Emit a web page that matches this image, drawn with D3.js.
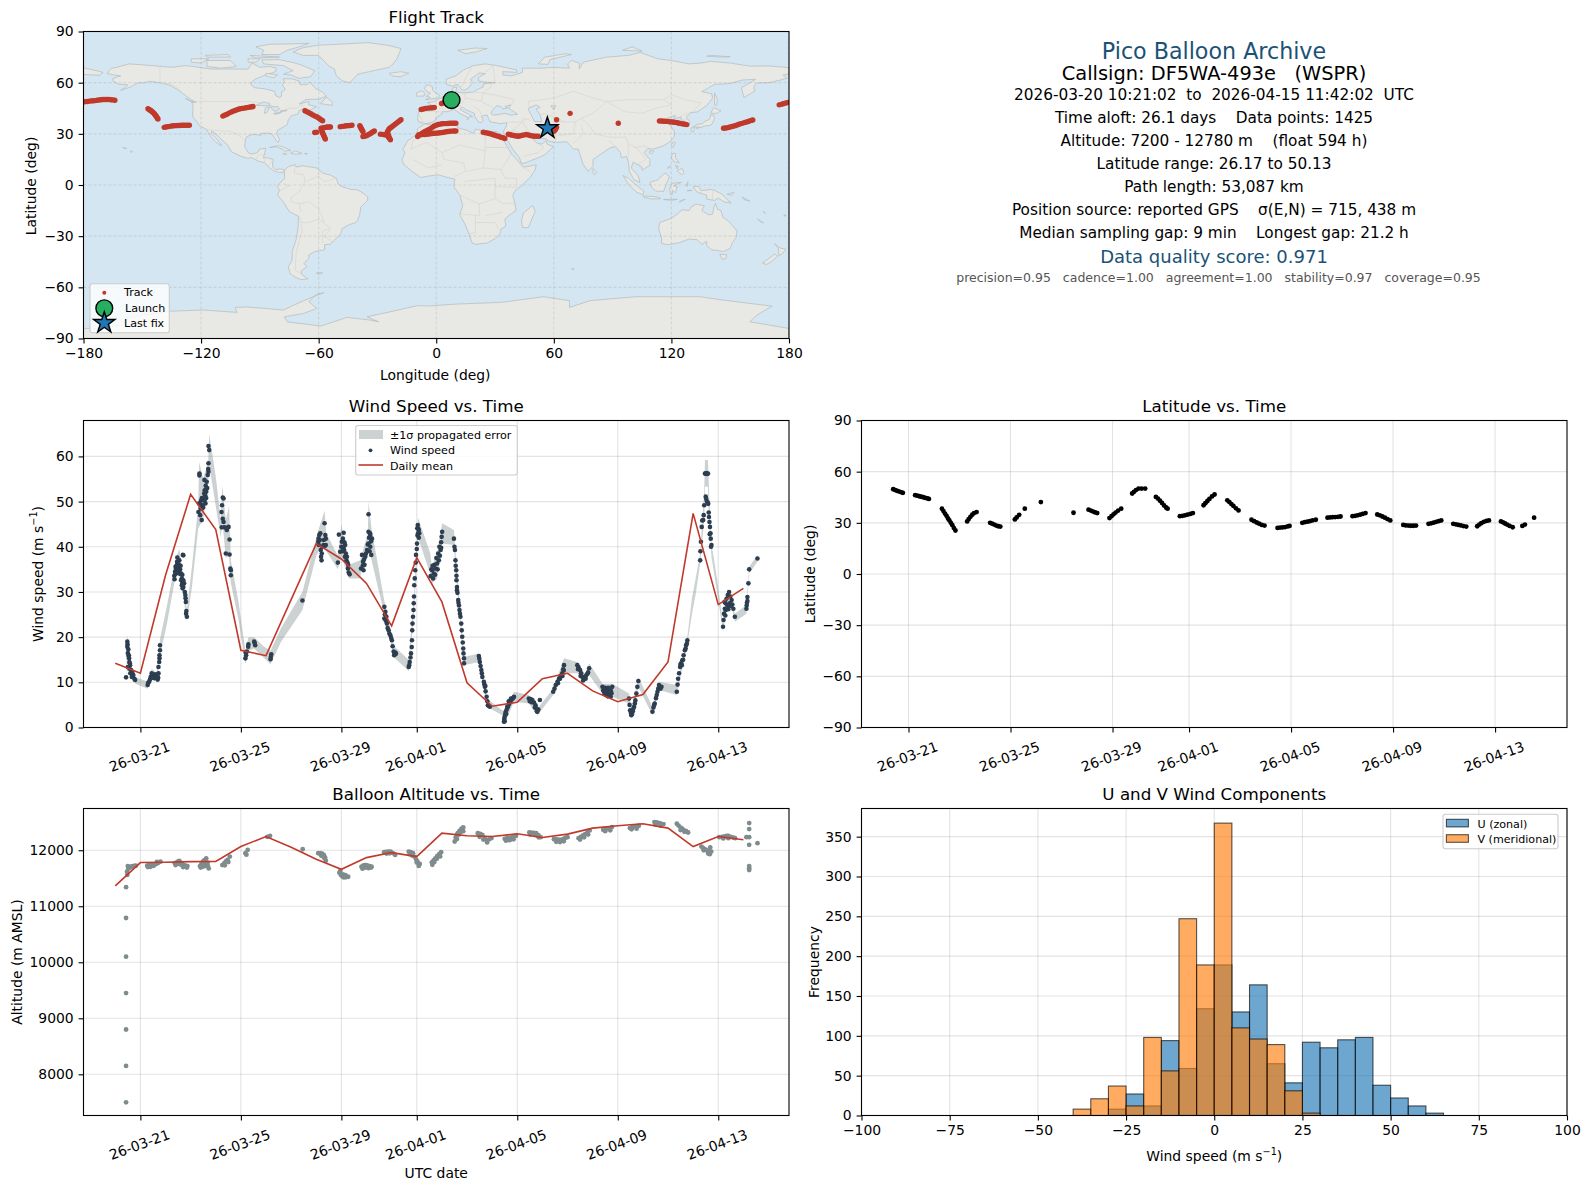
<!DOCTYPE html>
<html><head><meta charset="utf-8">
<script src="https://cdn.jsdelivr.net/npm/d3@7"></script>
<style>html,body{margin:0;padding:0;background:#fff}svg{display:block}text{font-family:"DejaVu Sans",sans-serif}</style>
</head><body><svg id="fig" width="1590" height="1189"></svg>
<script>
// ---------- Map base (lon, lat) ----------
const landPolys = [
[[-168,65.5],[-166,68.3],[-163,69],[-157,71],[-150,70.5],[-141,69.6],[-135,69],[-128,70],[-124,69.5],[-115,68],[-108,68],[-102,68],[-96,68],[-94,71.5],[-90,69],[-85,69.5],[-81.5,68.5],[-82,66.5],[-87,64.5],[-92.5,62],[-94.5,60],[-94.5,58.7],[-92.5,57],[-88,56.5],[-82.5,55],[-82,52.5],[-80,51.3],[-79,52],[-79,54.5],[-77,56],[-78.5,58.7],[-77.5,60.5],[-78,62.4],[-73.5,62.2],[-70,61],[-69.5,58.8],[-66,58.8],[-64.5,60.3],[-61.5,56.5],[-58,54.5],[-56,52],[-60,50.3],[-66.5,50.2],[-70,47.5],[-65,49],[-65,47],[-61,46],[-65,43.7],[-67,45],[-70,43.7],[-70.5,41.7],[-74,40.5],[-75.5,38],[-76,35.5],[-78,34],[-81,32],[-81.4,30],[-80,26.8],[-80.7,25],[-81.8,26],[-82.7,28],[-84,30],[-86,30.4],[-89.5,30.2],[-89.5,29],[-92,29.6],[-94.5,29.5],[-97,28],[-97.5,25],[-97.8,22.5],[-96,19],[-94.5,18.2],[-92,18.6],[-90.8,19.5],[-90.3,21],[-87,21.5],[-87.5,19],[-88.2,16],[-86,15.9],[-83.3,15],[-83.5,12],[-83.6,10.8],[-82,9],[-79.5,9.5],[-77.4,8.7],[-78,7.5],[-80,7.3],[-81.5,7.8],[-83,8.3],[-85,10],[-87.5,13],[-91,14],[-94,16],[-96.5,15.7],[-100,17],[-104.5,19.5],[-105.5,21.5],[-106.5,23.5],[-109,26],[-110.5,27.8],[-112.5,30],[-114.7,31.6],[-114.7,30],[-112.5,27.5],[-110,24],[-109.5,23],[-112,24.7],[-114.5,27.5],[-116,30],[-117.2,32.6],[-120.5,34.5],[-122.5,37.5],[-124.3,40.3],[-124.3,43],[-124,46.3],[-124.7,48.4],[-122.5,48.5],[-125,50],[-128,52.5],[-130.5,54.7],[-133,56.5],[-136,58.5],[-140,59.8],[-146,60.8],[-150,59.8],[-152,60],[-156,57.5],[-161,55.5],[-158,57.8],[-157.5,58.8],[-162,59],[-165,61],[-165,62.5],[-161,64],[-164.5,64.5]],
[[-77.4,8.7],[-75.5,10.7],[-72,12],[-71.5,10.5],[-68,11.3],[-64,10.5],[-61,10],[-58,7],[-54,5.8],[-51,4],[-50,0.5],[-48,-1],[-44,-2.5],[-40,-2.9],[-37,-5],[-35,-7],[-35,-9],[-38.5,-13],[-39,-17],[-40,-20.5],[-41,-22],[-44.5,-23.3],[-48,-25.5],[-48.7,-28.5],[-52,-32.5],[-54,-34.7],[-57,-35],[-57,-38],[-62,-39],[-65,-41],[-65,-43],[-67.5,-46],[-66,-48],[-69,-50.5],[-68.5,-52.5],[-65.5,-55],[-69,-55.5],[-72,-54],[-74.5,-52],[-75.5,-48],[-73.5,-44],[-73.5,-39],[-71.5,-32],[-70.5,-25],[-70.3,-18.5],[-75,-15.5],[-78,-10],[-81,-6],[-80,-3],[-81,-1],[-80,1],[-78.5,2.5],[-77.3,4],[-77.5,7]],
[[-73,78],[-68,76],[-60,76],[-55,70],[-52,68],[-51,64],[-48,61],[-44,60],[-40,65],[-34,66.5],[-24,69],[-22,71],[-20,74],[-19,77],[-18,80],[-25,82],[-35,83.5],[-50,82.5],[-60,82],[-68,80.5]],
[[-80,73.5],[-72,71.5],[-68,70],[-62,67],[-64,63.5],[-70,62.5],[-74,64.5],[-78,65],[-73,67],[-78,70],[-88,71],[-89,73.3]],
[[-117,73],[-105,73],[-102,69.5],[-110,68.5],[-117,69.5]],
[[-125,74],[-116,74],[-120,71.5],[-125,72]],
[[-92,81],[-85,82.5],[-65,83],[-70,81],[-76,79],[-80,76.5],[-89,76.5],[-88,79]],
[[-95,76],[-80,75],[-92,74.5]],[[-118,76],[-106,76.5],[-105,75],[-117,75]],[[-96,74],[-90,74],[-92,72],[-96,72]],
[[-87,65.5],[-81,64.5],[-83,62.8],[-87,64]],[[-59,47.7],[-53,46.7],[-53,48.5],[-56,51.5]],[[-128,50.7],[-123.5,48.5],[-125,48.8]],
[[-85,22],[-80,23.1],[-75,20.7],[-74.2,20.2],[-77.5,19.9],[-78.5,21],[-82,22.5]],[[-74.4,18.5],[-72,20],[-68.5,18.5],[-71,18]],
[[-78.3,18.4],[-76.3,18.2],[-77,17.8]],[[-67.2,18.5],[-65.7,18.4],[-66.5,18]],
[[-156,20],[-155,19.7],[-155.7,19]],[[-160,22],[-158,21.5],[-158.5,21.2]],
[[-6,35.8],[-2,35.2],[3,36.8],[10,37.3],[11,33.5],[15,32.3],[19,30.3],[20,32.7],[25,31.7],[31,31.3],[32.5,30],[34,27],[35.5,24],[37,21],[38.5,18],[41,15],[43.2,12],[45,10.5],[51,11.8],[50.5,9],[48,4.5],[43,-1],[40.5,-3],[39,-6],[40,-10],[40.7,-15],[37,-18],[35,-20],[35.5,-24],[33,-26],[32.5,-28.5],[30,-31.5],[26,-34],[20,-34.8],[18.3,-34],[17,-29.5],[14.5,-22.5],[12,-17.5],[13.5,-12],[12,-6],[9,-1],[9.5,3.5],[6,4.3],[1,6],[-4,5.2],[-8,4.4],[-13,8.5],[-16.5,12],[-17.5,14.7],[-16,19],[-17,21],[-14.5,26],[-10,29.5],[-9.5,33]],
[[-9,37],[-9.5,39],[-9,43.2],[-2,43.5],[-1.2,46],[-4.5,48.3],[-1.5,48.7],[1.5,50.5],[4,52],[8,53.7],[8.5,57],[10.5,57.5],[10,54.5],[14,54],[19,54.5],[21,56],[24,57.5],[24,59.3],[30,60],[25,60.3],[21.5,61],[21.5,63],[25,65.3],[22,65.7],[17.5,62],[18.5,60],[16.5,57],[14.3,55.5],[12.8,56],[11,59],[8,58],[5.3,59],[5,62],[10,64],[14,67.5],[19,70],[25,71],[31,70],[41,67.5],[41,66],[34,66.5],[34,64.5],[38,64],[40.5,64.7],[44,66],[44,68.5],[54,68.5],[60,69],[68,68.5],[67,71],[69,73],[73,71.5],[73,68],[75,72],[81,73.5],[87,75],[98,76],[104,77.7],[113,74],[120,73],[129,71],[135,71.5],[140,72.5],[150,71.5],[160,69.7],[170,69.8],[178,69],[180,68.7],[180,65],[177,64.5],[179,62.5],[170,60],[163.5,59.8],[162,57.5],[162.5,55],[157,51.3],[155.7,57],[163,62],[156,61.5],[150,59.5],[142,59],[135.5,54.7],[140.5,53.5],[141,51],[138,46.5],[133,42.8],[130,42.5],[127.5,39.8],[129.5,37],[129,35.2],[126.5,34.5],[126.5,37.5],[125,38],[125,39.7],[121.5,39],[122,40.8],[118,39.2],[119,37.3],[122.5,37.2],[119.5,35],[121.5,31.5],[121.5,28.5],[119,25.2],[116,23],[110.5,21],[108,21.5],[106,19],[109,15],[109,11.5],[105,8.7],[105,10.5],[102,12.5],[100.5,13.5],[99.5,10],[103,5.5],[104,1.5],[101,3],[98.5,8],[98,14],[97,16.8],[94.5,16],[94,19],[91.5,22.5],[88.5,21.7],[86.5,20],[82,16.5],[80,15],[80,11],[77.5,8],[75,12],[73,19],[72.5,21],[70,21],[69,22.5],[66.5,25.4],[61.5,25],[57,25.7],[56.5,27],[52,27.5],[50,30],[48,30],[49,27.5],[51,25],[51.5,24.5],[54,24],[56,26],[56.5,24],[59.7,22.5],[58,20.5],[55,17.5],[52,16],[45,12.8],[43.3,12.8],[42.5,16],[39,21],[36.5,26],[35,28],[34.7,29.5],[34.2,31.3],[35.8,34.5],[36,36.5],[32.5,36],[30.5,36.5],[27.5,37],[26.5,39.5],[26.2,40.2],[26,41],[24,40.7],[23,40.3],[24,38],[23,36.5],[21.5,37],[19.5,40.5],[19.5,42],[15.5,44],[13.5,45.5],[12.3,45],[12.5,44],[16,41.8],[18.5,40],[16.7,40],[16,38],[15.7,40],[12.3,41.7],[10.3,43.5],[8.8,44.4],[6,43],[3,43],[3,41.7],[0,39.5],[-0.5,38],[-2,36.8],[-5.5,36]],
[[-180,64.8],[-172,64.3],[-170,66],[-175,67.5],[-180,68.7]],
[[-5.5,50],[1.3,51.2],[1.7,52.7],[0,53.7],[-1.8,55.5],[-2,57.5],[-3.5,58.6],[-5.2,58.5],[-6,56.5],[-4.8,55],[-3,53.8],[-5,52],[-3,51.4]],
[[-10,52],[-6.2,52.2],[-6,54],[-7.5,55.3],[-10,54]],[[-24,65.5],[-18,66.4],[-14,65.5],[-18.5,63.4],[-22.7,64]],
[[11,79],[20,80.3],[26,80],[20,78],[15,77]],[[52,71],[57,70.7],[58,73.5],[69,76.5],[66,77],[55.5,75]],[[95,79],[105,78.5],[100,81]],
[[138,75.5],[146,75],[150,75.2],[140,76]],[[142,54],[143.5,50],[143,46.5],[142,47]],[[140,42],[141.5,45.4],[145.3,43.5],[143,42]],
[[130.9,34],[133,35.5],[136,36],[137,37.3],[139.5,38.5],[140,41],[141.5,41],[142,39],[140.8,36],[140,35],[136.8,34.5],[135,33.7],[132,34]],
[[130,33.5],[131.8,33.5],[131.3,31.3],[130.2,31.3]],[[132.5,33.8],[134.5,34],[134,33.3],[133,33]],[[121,25.2],[122,25],[120.9,22],[120,23.3]],
[[109,20],[111,20],[110,18.3],[108.7,19]],[[80,9.7],[81.8,7.5],[80.7,6],[79.8,8]],[[120.5,18.5],[122.2,18.5],[122,16],[124,13],[121,13.8],[120,16]],
[[123,8.5],[125.5,9.7],[126.5,7],[125.5,6],[123.5,7.5]],[[118,10],[119.5,11.2],[118.8,10]],[[122,11.5],[123.5,11],[123,9.5]],
[[95.3,5.6],[98,4],[104,-2],[106,-3.5],[105.5,-5.8],[102,-4],[98,0.5]],[[105.5,-6.5],[108.5,-6.6],[113,-7],[114.5,-8],[110,-8.2],[106,-7.3]],
[[109,1.5],[113,3],[116.7,7],[119,5],[117.5,1],[116,-3.8],[112,-3.5],[110,-1.5]],[[119.5,-5.5],[119,-2],[120.5,1],[125,1.5],[121,-0.5],[123,-1],[122,-4.5],[120.5,-3],[120.5,-5.5]],
[[131,-1],[134,-0.8],[135,-3.3],[141,-2.6],[146,-5.5],[148,-8],[150.5,-10.5],[147,-10],[144,-7.7],[142,-9],[138,-8.3],[138,-6],[133,-4]],
[[124,-10],[127,-8.4],[125,-9]],[[116,-8.5],[119,-8.4],[123,-8.4],[120,-9]],[[127.5,0],[128.5,2],[128,-1]],[[129,-3],[130.5,-3.2],[128,-3.5]],
[[148.5,-5.5],[152,-4.2],[151,-6]],[[156,-7],[160,-9.5],[157,-8.5]],[[164,-20],[167,-22.2],[166,-22]],[[167,-15.5],[168,-16.5],[167,-16]],[[177.5,-17.5],[178.5,-18],[177.5,-18.2]],
[[114,-22],[113.5,-26],[115,-31],[115,-34.3],[118,-35],[123.5,-34],[129,-31.7],[133,-32],[135.5,-34.8],[138,-33],[138,-35.5],[140.5,-38],[144,-38.5],[146.5,-39],[150,-37.3],[151,-34],[153,-31],[153.5,-27],[151,-23.5],[149,-21],[146.3,-19],[145.3,-15],[143.5,-14.3],[142.5,-10.8],[141.7,-13],[141,-17],[139,-17.5],[135.5,-15],[136.8,-12.2],[132.5,-11.2],[130,-13],[129,-15],[125.5,-14.5],[122,-18],[119,-20]],
[[144.7,-40.7],[148.2,-40.8],[147.8,-43],[146,-43.6]],[[166.5,-45.8],[172.7,-40.5],[174.2,-41.7],[171,-45],[168.5,-46.6]],[[172.8,-34.5],[175.5,-37],[178.5,-37.7],[176.8,-40],[175,-41.5],[174.7,-39],[174.5,-37]],
[[49.3,-12],[50.5,-15.5],[47,-25],[44,-25],[43.5,-21],[44.5,-16.3]],[[69,-49],[70.5,-49.3],[69.5,-49.7]],[[-61,-51.5],[-58,-51.4],[-59,-52.3],[-61,-52]],
[[-180,-84.1],[-170,-84],[-160,-82],[-157,-78],[-150,-76.5],[-136,-74],[-118.7,-73.3],[-101.7,-74.7],[-102.5,-71.8],[-96.6,-71.5],[-78,-73.3],[-74.5,-71.4],[-67.6,-67.8],[-57.4,-63.1],[-61.7,-64.5],[-65,-68.4],[-61,-72.4],[-67.6,-75.3],[-77.5,-77.3],[-76,-80.2],[-59,-82.7],[-52.3,-80.2],[-45.5,-77.6],[-33.6,-79.2],[-29.4,-80.2],[-35.3,-77.3],[-23.4,-74.3],[-9.8,-70.8],[-3,-70.9],[10.4,-69.8],[33.4,-68.8],[54.6,-65.5],[68,-67.8],[68,-71.8],[78.5,-67.8],[102,-65.5],[134.6,-65.5],[146.6,-67.5],[171.3,-71],[163.6,-76.3],[160,-80.2],[180,-84.1],[180,-90],[-180,-90]]
];
const waterPolys = [
[[41.5,41.5],[37,45],[38,47],[35,46],[36.5,45.2],[34,44.5],[33,46],[30.7,46.5],[28.5,43.5],[28,41.8],[29,41],[31,41.2],[35,42],[38,41]],
[[47,45],[51,47],[53,45.5],[51,44.5],[53,41],[54,37],[50,37.3],[49,40],[47.5,43]],
[[-92,46.7],[-88,48.7],[-85,47.8],[-84.7,46.5],[-87,46.5]],[[-87.8,42],[-87,45.5],[-85,45.8],[-86.3,42.5]],[[-84.5,45.8],[-81,46],[-80,44.5],[-82,43.2],[-83.5,44]],
[[-83,41.8],[-79,42.8],[-79.5,42.2],[-82,41.5]],[[-79.7,43.3],[-76.3,44],[-76.5,43.4],[-78.5,43.2]],[[58.5,46.5],[61,46.5],[60,44]]
];
const borderLines = [
[[-123,49],[-95,49],[-89,48],[-84,46.5],[-82.5,45],[-82.5,42.5],[-79,43],[-75,45],[-71,45],[-69,47.3],[-67,45]],[[-141,69.6],[-141,60],[-135,59],[-130,55]],[[-117,32.5],[-108,31.5],[-106,31.7],[-101,29.5],[-97.5,26]],
[[-92,14.5],[-91,17.5],[-88.5,18]],[[-88,15.8],[-87.5,13.3]],[[-83.2,15],[-85.7,11]],[[-70,-18],[-69,-22],[-68.5,-27],[-70,-33],[-71.5,-40],[-72,-50],[-69,-52]],
[[-72,12],[-72.5,7],[-67.5,6],[-67,2],[-70,-4],[-74,-7],[-74,-10],[-70,-11],[-69,-16]],[[-67,2],[-60,5],[-60,8]],[[-78,1],[-75,-0.5],[-80,-3.5]],
[[-58,-34],[-58,-27],[-54,-25.5],[-57.5,-22],[-60,-20],[-65,-22],[-69,-22]],[[-70,-11],[-65,-10],[-60,-14],[-58,-19],[-57.5,-22]],[[-54,-34],[-53,-33],[-57,-30],[-54,-26]],[[-60,5],[-57,2],[-51,4]],
[[-8.7,27.7],[-12,26],[-13,21],[-5,25],[3,19],[12,23.5],[25,20],[25,31.5]],[[9,30],[12,33]],[[-2,35],[-1,32],[-8.7,27.7]],[[3,19],[4,15],[14,13],[15,8],[9,5]],[[-12,15],[-4,10],[3,12]],[[25,20],[24,10],[15,8]],
[[24,10],[33,9],[35,4],[41,3.8],[41,-1.5]],[[25,22],[37,22]],[[33,9],[36,14],[38,18]],[[48,8],[43,11]],[[14,2],[30,4],[30,-1],[30,-8],[22,-11],[12,-6]],[[30,-8],[34,-11],[40.5,-10.5]],[[22,-11],[22,-18],[12,-17]],
[[20,-18],[20,-28],[17,-28.5]],[[20,-22],[30,-22],[32,-26]],[[25,-18],[34,-16]],[[30,-1],[34,-1],[41,-1.5]],
[[-9,42],[-7,37]],[[-2,43.5],[3,42.5]],[[2.5,51],[8,49],[7.5,44]],[[8,49],[7,53.5]],[[14,54],[15,51],[13,48],[9.5,47.5],[12,46.5],[13.5,45.5]],[[19,54.5],[24,54],[23,49],[15,51]],[[24,54],[31,52.5],[40,50],[38,47]],[[28,57.5],[28,60]],[[28,57.5],[24,54]],[[23,49],[29,45.3]],[[19,46],[22,44],[23,41]],[[30,60],[29,70]],[[12,56],[18,69]],[[25,66],[29,70]],
[[48,42],[47,49],[60,51],[70,55],[80,51],[87,49],[98,50],[105,50],[116,50],[120,53],[127,50],[135,48],[131,43]],[[87,49],[96,43],[105,42],[112,45],[120,47],[116,50]],[[87,49],[80,42],[74,39],[78,35],[81,30],[88,28],[97,28],[98,24],[102,22],[106,23],[108,21.5]],
[[44,39],[48,38]],[[44,39],[45,35],[48,30]],[[61,37],[61,25]],[[61,37],[66,37],[71,37],[74,39]],[[66,37],[55,42],[53,41]],[[71,37],[70,30],[62,29]],[[74,35],[75,30],[70,24.5]],[[88,26],[92,22]],[[98,16],[98,24]],[[102,22],[105,18],[107,15],[103,12]],
[[35,29],[39,32],[47,29]],[[52,19],[45,17]],[[52,19],[55,22],[52,24]],[[36,36.8],[44,37],[39,32]],[[141,-2.6],[141,-9]],[[124,40],[128,42],[130,42.5]],[[124.5,38],[128.5,38.5]]
];

// ---------- Track (lon, lat) ----------
const trackPoints = [
[-180,48.7],[-179,48.9],[-178,49],[-177,49.2],[-176,49.3],[-175,49.4],[-174,49.5],[-173,49.7],[-172,49.9],[-171,50],[-170,50.1],[-169,50.1],[-168,50.1],[-167,50.1],[-166,50],[-165,49.9],[-164,49.7],
[175,47],[176,47.3],[177,47.6],[178,48],[179,48.3],[180,48.5],
[-147.1,44.7],[-146.5,44.3],[-146,43.9],[-145.5,43.5],[-145,43],[-144.5,42.5],[-144,42],[-143.6,41.4],[-143.2,40.8],[-142.9,40.3],[-142.6,39.8],[-142.3,39.2],[-142,38.7],
[-138.8,33.8],[-138,34],[-137,34.2],[-136,34.4],[-135,34.6],[-134,34.7],[-133,34.8],[-132,34.85],[-131,34.9],[-130,35],[-129,35],[-128,35],[-127,35],[-126,35],
[-108.9,40.4],[-108,40.9],[-107,41.4],[-106,42],[-105,42.6],[-104,43.1],[-103,43.6],[-102,44],[-101,44.4],[-100,44.7],[-99,44.9],[-98,45.1],[-97,45.3],[-96,45.5],[-95,45.7],[-94,45.9],[-93.5,46],
[-67,43.5],[-66,43],[-65,42.4],[-64,41.8],[-63,41.1],[-62,40.5],[-61,40],[-60.2,39.4],[-59.5,38.8],[-58.8,38.3],[-58,37.7],
[-62,30.8],[-61,31],[-58.8,33.3],[-58,33.5],[-57,33.7],[-56,33.9],[-55.5,34],[-54.5,34],[-54,34],[-58.5,32.5],[-58.3,31.3],[-58,30.6],[-57.8,30],[-57.5,29.2],[-57.2,28.5],[-56.9,27.7],[-56.6,27],
[-49,34.2],[-48,34.4],[-47,34.5],[-46,34.7],[-45,34.8],[-44,34.9],[-43,35],[-39,34.8],[-38.7,34.1],[-38.5,33.5],[-38.2,33],[-38,32.5],[-37.7,31.9],[-37.4,31.3],
[-37.4,28.4],[-36.7,28.6],[-36,28.8],[-35.2,29.2],[-34.5,29.6],[-33.7,30.1],[-33,30.7],[-32.3,31.2],[-31.6,31.7],
[-28.5,29.8],[-27.5,29.7],[-26.5,29.5],[-25.7,29.4],[-25,29.4],[-24.6,28.7],[-24.3,28],[-23.8,27.2],[-23.4,26.5],[-24,27.7],[-24.3,29],[-24.7,30],[-25,31],[-24.5,32],[-24,33],[-23.3,33.6],[-22.6,34.2],[-21.8,34.9],[-21,35.6],[-20.2,36.3],[-19.5,37],[-18.7,37.7],[-18,38.3],
[-7.7,44.3],[-6.6,44.6],[-5.5,44.9],[-4.3,45.1],[-3.2,45.2],[-2,45.3],[-1,45.4],[2.7,47.8],[3.6,48.1],[4.5,48.5],
[-9.5,28.4],[-8.5,29.5],[-7.7,30],[-7,30.5],[-6,31.2],[-5,31.8],[-4,32.4],[-3,33],[-2,33.8],[-1,34.6],[0,35.1],[1,35.5],[2,35.7],[3,35.9],[4,36],[5,36],[6,36.1],[7,36.2],[8,36.2],[9,36.2],[10,36.2],
[-9,29.4],[-8,29.5],[-7,29.6],[-6,29.6],[-5,29.7],[-4,29.9],[-3,30],[-2,30.2],[-1,30.3],[0,30.4],[1,30.5],[2,30.6],[3,30.8],[4,31],[5,31.2],[6,31.4],[7,31.5],[8,31.6],[9,31.7],[10,31.7],
[24,30.9],[25,30.7],[26,30.5],[27,30.2],[28,29.9],[29,29.5],[30,29.2],[31,28.8],[32,28.4],[33,28],[34,27.7],[35,27.3],
[36.8,29.8],[37.7,29.5],[38.5,29.3],[39.5,29],[40.5,28.8],[41.2,28.7],[42,28.6],[43,28.9],[44,29.2],[45,29.4],[46,29.6],[47,29.3],[48,29],[49,28.8],[50,28.6],[51,28.6],[52,28.6],
[60,31.5],[60.6,32.3],[61,33],[61.4,33.8],[61.4,38.3],[68.3,42],[92.9,36.2],
[113.9,37.5],[115,37.5],[116,37.4],[117,37.4],[118,37.3],[119,37.1],[120,37],[121,36.9],[122,36.7],[123,36.5],[124,36.2],[125,36],[126,35.8],[127,35.6],[127.8,35.4],
[146.6,33.3],[147.5,33.4],[148.5,33.5],[149.5,33.9],[150.5,34.2],[151.5,34.5],[152.5,34.8],[153.5,35.2],[154.5,35.6],[155.5,36],[156.5,36.3],[157.5,36.7],[158.5,37],[159.2,37.3],[160,37.6],[160.8,37.9],[161.5,38.1]
];
const launchPoint = [7.8,49.8];
const lastFixPoint = [56.7,33.3];

// ---------- Time series (days since 2026-03-21 00:00 UTC) ----------
const windPoints = [
[-.57,11.1],[-.52,19],[-.51,18.4],[-.52,17.9],[-.48,17.3],[-.46,16],[-.45,15.3],[-.44,14.5],[-.41,13.8],[-.37,12.7],[-.32,12.3],[-.28,11.6],[-.24,10.8],[-.21,10.5],[-.5,13.4],[-.44,13],[-.4,12],[-.34,11.2],[-.5,16.5],[-.47,15.8],[-.42,14.2],
[.29,9.4],[.31,9.9],[.35,10.1],[.38,10.6],[.41,11.2],[.45,12],[.49,11.8],[.52,11.6],[.58,11.4],[.62,11.1],[.65,11],[.69,10.6],[.71,11],[.72,12],[.72,13.4],[.75,14.5],[.76,15.3],[.76,16],[.78,17.1],[.78,18.2],[.47,11],[.55,10.9],[.6,11.8],[.68,11.4],
[1.35,33.6],[1.38,34.5],[1.42,35.2],[1.45,35.9],[1.49,36.3],[1.55,35.9],[1.58,35],[1.62,34.1],[1.65,33],[1.67,31.9],[1.71,31.1],[1.77,30],[1.79,29.3],[1.81,27.8],[1.82,25.2],[1.85,24.5],[1.69,38.2],[1.71,38.1],[1.47,37.6],[1.5,35.2],[1.4,34],[1.53,34.5],[1.58,34],[1.71,32.6],[1.62,32.6],[1.74,31.9],[1.65,31.5],[1.45,35],[1.43,34.2],[1.52,35.7],[1.4,35.6],[1.46,36.7],[1.55,37],[1.36,32.8],[1.6,35.8],[1.67,33.8],[1.83,25.8],[1.8,28.6],[1.68,30.8],
[2.31,47.7],[2.38,47],[2.44,45.9],[2.34,49.6],[2.42,50.3],[2.47,49.2],[2.51,50.3],[2.58,51.4],[2.62,52.2],[2.64,52.9],[2.55,54.8],[2.64,54.4],[2.68,55.9],[2.71,56.6],[2.71,58.5],[2.74,61.4],[2.71,62.3],[2.59,49.6],[2.54,51.8],[2.35,56.2],[2.35,55.8],[2.44,48.5],[2.48,50.5],[2.55,50.3],[2.6,53.5],[2.66,53],[2.4,48.5],[2.38,49.5],[2.45,50.8],[2.5,48.7],[2.56,52.5],[2.62,50.8],[2.7,57.2],
[3.28,50.9],[3.31,50.7],[3.25,49.2],[3.23,47.7],[3.31,45.5],[3.24,44.3],[3.35,44.3],[3.51,44.4],[3.4,38.5],[3.55,38.3],[3.55,41.6],[3.6,34.8],[3.6,33.7],[3.44,43.7],[3.46,44.2],[3.28,46.2],[3.58,35.2],
[4.18,15.3],[4.21,16],[4.24,16.8],[4.29,17.9],[4.3,18.4],[4.53,19],[4.57,18.2],[5.18,15.1],[5.19,15.6],[5.21,16.2],[6.45,28.1],[4.19,16.6],[4.55,18.7],
[7.08,41.1],[7.09,41.8],[7.16,43],[7.18,39.3],[7.22,38.5],[7.21,37],[7.29,40.4],[7.36,42.6],[7.33,45.2],[7.38,40.4],[7.38,41.8],[7.1,40.4],[7.24,40],[7.3,41.5],[7.14,41.5],[7.34,40.2],[7.12,42.6],[7.19,37.8],
[7.86,36.5],[7.9,42.7],[7.95,38.9],[8.02,41.1],[8.09,43.1],[8.06,41.8],[8.15,40.4],[8.11,39.3],[8.18,38.5],[8.22,37.8],[8.26,35.2],[8.29,34.3],[8.33,33.9],[8,40],[8.06,39.8],[8.12,41],[8.24,36.5],[8.04,39],[8.09,40],[8.14,37.8],[8.2,37],[8.27,36],
[8.78,35.2],[8.86,36.7],[8.88,34.8],[8.82,38.2],[8.95,37.8],[9.02,39.3],[9.08,40.7],[9.19,38.2],[9.15,40],[9.08,43.3],[9.15,42.6],[9.22,41.8],[9.08,47.2],[9.05,40.5],[8.92,36],[8.98,38.5],[9.12,39],[8.85,35.8],[8.9,37.2],[9.1,42],[9.18,41.2],[9.14,43],
[9.71,26.7],[9.75,25.6],[9.79,24.5],[9.71,24.1],[9.81,23],[9.88,21.5],[9.95,20.4],[10.01,19.3],[10.08,16.8],[10.15,16.2],[9.84,22],[9.91,20.8],[9.98,19.8],[10.04,18],[10.12,16.4],[9.73,25],[9.77,23.6],[10.1,16],[10.14,16.6],[10.17,16.4],
[10.68,13.4],[10.72,14.5],[10.77,16.4],[10.81,19.3],[10.82,21.5],[10.85,24.5],[10.88,27.5],[10.9,31.5],[10.94,34.8],[10.97,38.2],[11.01,40.7],[11.04,44.8],[11.08,43.7],[11.1,43],[10.75,15.5],[10.8,17.8],[10.83,23],[10.87,26],[10.89,29],[10.92,33],[10.96,36.5],[11,39.5],[11.03,42.5],[11.06,44],[11.05,43],[11.08,42],[11.02,44.1],[10.7,13.8],
[11.61,34.8],[11.68,34.1],[11.75,35.2],[11.81,36.3],[11.88,37],[11.95,39.3],[11.99,42.2],[12.01,43.3],[11.55,33.5],[11.7,36],[11.65,33],[11.78,37.5],[11.85,38.5],[11.92,38],[11.97,41],[11.58,35],[11.63,35.8],[11.73,33.8],[11.83,35],[11.9,40],[11.97,39.8],
[12.48,41.8],[12.5,40],[12.52,39.3],[12.54,37],[12.55,35.8],[12.57,34.8],[12.58,32.6],[12.6,31.1],[12.62,29.8],[12.65,28.2],[12.68,27],[12.7,26],[12.74,24.5],[12.77,23],[12.79,21.5],[12.81,20.1],[12.83,18.8],[12.85,17.5],[12.88,15.3],[12.88,14.2],[12.58,33.6],[12.6,30.4],[12.66,27.6],[12.72,25.2],[12.86,16.4],
[13.47,15.8],[13.49,15.2],[13.51,14.5],[13.54,13.6],[13.57,12.7],[13.59,12],[13.61,11.2],[13.67,10.1],[13.71,9],[13.74,8],[13.78,6.8],[13.81,5.8],[13.83,4.9],[13.91,4.6],[13.69,9.6],[13.73,9.2],[13.87,4.8],
[14.47,1.3],[14.48,1.9],[14.5,2.4],[14.52,3],[14.54,3.5],[14.58,4],[14.63,4.6],[14.68,5.2],[14.73,5.7],[14.78,6.2],[14.83,6.5],[14.87,6.8],[14.5,1.4],[14.56,3],[14.6,4.6],[14.66,5.8],[14.75,6.4],
[15.46,6.4],[15.53,6.3],[15.6,6.1],[15.67,5.5],[15.73,4.9],[15.77,4.2],[15.8,3.5],[15.84,4],[15.9,6.1],[15.5,5.8],[15.57,5.6],[15.7,4.4],[15.78,3.6],
[16.43,7.9],[16.48,8.6],[16.53,9.4],[16.6,10.1],[16.66,10.8],[16.72,11.4],[16.79,12],[16.83,12.9],[16.86,13.8],[16.62,9.8],[16.7,10.8],[16.8,11.4],[16.85,12.6],
[17.39,13.8],[17.44,13.3],[17.5,12.7],[17.54,12],[17.59,11.2],[17.65,10.9],[17.72,10.8],[17.79,11.9],[17.86,13.1],[17.42,12.9],[17.52,11.4],[17.62,10.4],[17.74,11.5],[17.82,12.2],
[18.39,9],[18.45,8],[18.52,7.2],[18.58,7.8],[18.65,8.3],[18.72,6.8],[18.72,8.2],[18.78,9],[18.5,8.8],[18.42,8.2],[18.47,7.4],[18.6,6.9],[18.68,7.2],[18.75,7.6],[18.55,8.4],[18.62,8.8],
[19.45,6.4],[19.47,5],[19.49,3.8],[19.54,2.7],[19.6,3.6],[19.65,4.6],[19.7,6],[19.74,7.5],[19.78,9],[19.82,10.3],[19.52,3.2],[19.57,3],[19.62,4.2],[19.68,5.3],
[20.38,3.5],[20.42,4.4],[20.47,5.3],[20.52,6.5],[20.58,7.9],[20.61,8.6],[20.64,9.4],[20.7,8.6],[20.45,5],[20.55,7.2],[20.74,9],
[21.35,7.9],[21.38,9.5],[21.4,10.8],[21.44,12],[21.48,13.4],[21.52,14.2],[21.57,14.9],[21.62,16],[21.67,17.1],[21.72,18.2],[21.77,19.3],[21.5,14],[21.55,13.8],[21.6,15],[21.7,17.5],[21.75,18.6],
[22.28,37],[22.29,39],[22.31,41.1],[22.34,44.4],[22.4,45.9],[22.44,49.2],[22.5,51.1],[22.47,56.2],[22.5,56.2],[22.53,56.3],[22.59,56.2],[22.56,56.1],[22.63,46.6],[22.65,45.5],[22.67,44.4],[22.69,43],[22.7,41.8],[22.73,40.4],[22.55,50],[22.6,49.5],[22.42,47],[22.36,45.8],[22.62,47.6],[22.66,42.8],[22.71,40],[22.52,50.6],[22.58,49.8],
[23.19,22.3],[23.21,23.8],[23.23,25.2],[23.26,26.3],[23.29,27.5],[23.33,28.5],[23.38,29.3],[23.43,30],[23.48,29],[23.53,28.2],[23.6,26.3],[23.66,24.5],[23.3,26],[23.36,27],[23.45,27.5],[23.25,27.8],[23.28,24.8],[23.4,26.2],[23.5,26.9],[23.56,27.2],
[24.12,26.3],[24.14,27.6],[24.16,28.9],[24.2,31.9],[24.23,35],[24.56,37.4],[24.13,27],[24.16,28]
];
const windBand = [
[-.57,10.5,12],[-.52,17.5,20.5],[-.46,14.5,17.5],[-.35,11,13.5],[-.2,9.7,11.2],[.29,8.6,10.1],[.45,11,13],[.65,10,12],[.78,16,19.5],[1.06,23,27],[1.35,32,35.5],[1.45,34,38],[1.55,34,39.5],[1.71,29,33],[1.85,23.5,26],[2.05,31,35.5],
[2.3,44,49],[2.34,44.5,58.8],[2.5,46,55],[2.7,54,59],[2.74,58,65],[3,49,55.5],[3.2,42,46],[3.26,46,53.5],[3.4,37.5,46],[3.53,38,49],[3.6,32,37],[3.9,24,28],[4.18,14,17],[4.3,17,20],[4.53,17.5,20],[4.9,15.5,18],[5.18,14,17],[5.6,19,22],[6.45,26,30],
[7,38,42],[7.1,39,44],[7.33,41,48],[7.4,39,43],[7.86,35,38],[8,38,45],[8.3,33,36],[8.75,33,37],[8.8,35,38],[9.05,38,43],[9.08,42,50],[9.2,37,44],[9.71,25,28],[10.1,15.5,18],[10.68,12.5,15],[10.9,26,30],[11.05,42,46.5],[11.54,34,38.5],[11.6,31.9,35.6],[11.81,33,38.5],[12.01,40.7,45.2],[12.48,40.4,43.7],
[12.54,35,39],[12.88,13.8,15.6],[13.47,14.5,16.4],[13.8,4.6,6.4],[14.4,2.7,3.8],[14.5,.9,3.5],[14.87,5.7,7.9],[15.46,5.3,7.2],[15.8,2.7,4.2],[16.43,7.2,8.6],[16.86,12,15.3],[17.39,12,14.5],[17.72,10.1,11.6],[17.86,11.6,14.2],[18.39,7.5,9.7],[18.78,6.8,9.7],[19.45,5.3,7.5],[19.54,2,3.8],[19.82,9,11.2],[20.38,2.7,4.6],[20.64,8.3,10.1],[21.35,7.2,9.4],[21.77,18.6,20.1],[21.95,25,28.5],[22.1,29.5,33],[22.28,36.3,38.5],[22.44,45.9,52.5],[22.47,53.3,59.2],[22.59,53.3,59.2],[22.63,45.9,52.9],[22.73,37.8,40.7],[22.95,30,33],[23.19,21.2,23],[23.43,29.3,30.4],[23.66,23.4,25.2],[24.12,25.2,27.1],[24.23,34.1,35.6],[24.56,36.7,38.2]
];
const windDaily = [[-1,14.2],[0,12],[1,33.7],[2,51.6],[3,43.8],[4,17.1],[5,15.9],[6,28.3],[7,40.7],[8,37.3],[9,31.9],[10,22.5],[11,37.6],[12,27.8],[13,9.9],[14,4.7],[15,5.6],[16,10.8],[17,12],[18,8.1],[19,5.7],[20,7.3],[21,14.5],[22,47.4],[23,27.2],[24,30.8]];
const latPoints = [
[-.6,49.7],[-.52,49.2],[-.44,48.7],[-.36,48.3],[-.28,47.9],[-.22,47.6],[.26,46.2],[.34,45.9],[.42,45.6],[.5,45.3],[.58,45],[.66,44.6],[.74,44.3],[.8,44],
[1.31,38.3],[1.37,36.9],[1.43,35.4],[1.49,34.1],[1.55,32.6],[1.6,31.5],[1.66,30],[1.72,28.6],[1.78,26.9],[1.84,25.5],
[2.3,30.8],[2.36,32.2],[2.43,33.5],[2.5,34.8],[2.57,35.7],[2.67,36.3],[3.2,30],[3.28,29.5],[3.36,29],[3.44,28.4],[3.52,28],[3.6,27.8],
[4.17,32],[4.24,33.2],[4.34,34.7],[4.56,38.3],[5.19,42.2],[6.47,35.9],[7.06,37.7],[7.15,37.2],[7.24,36.6],[7.32,36.1],[7.4,35.7],
[7.88,32.8],[7.96,33.9],[8.04,35],[8.12,36],[8.22,37.2],[8.34,38.3],
[8.77,47.2],[8.84,48.2],[8.92,49.2],[9.02,50.1],[9.14,50.1],[9.28,50.1],
[9.7,45.2],[9.78,44.2],[9.86,43],[9.94,41.7],[10.02,40.2],[10.1,39],[10.16,38.3],[10.64,33.9],[10.74,34.1],[10.84,34.4],[10.94,34.8],[11.05,35.2],[11.15,35.7],
[11.57,40.3],[11.64,41.5],[11.72,42.8],[11.8,44],[11.9,45.5],[12,46.6],[12.5,43.2],[12.58,42.2],[12.66,41],[12.74,39.9],[12.84,38.5],[12.94,37.3],
[13.45,31.8],[13.55,31],[13.65,30.2],[13.75,29.5],[13.85,28.8],[13.96,28.4],[14.47,27],[14.57,27.2],[14.67,27.3],[14.77,27.5],[14.87,27.9],[14.94,28.2],
[15.44,30],[15.54,30.4],[15.64,30.7],[15.74,31],[15.84,31.4],[15.97,31.8],[16.43,33],[16.53,33.2],[16.63,33.3],[16.73,33.4],[16.84,33.5],[16.94,33.7],
[17.41,33.9],[17.51,34.1],[17.61,34.4],[17.71,34.8],[17.81,35.2],[17.92,35.7],[18.38,34.9],[18.48,34.4],[18.58,33.7],[18.68,33],[18.78,32.2],[18.89,31.4],
[19.4,28.8],[19.5,28.5],[19.6,28.4],[19.7,28.3],[19.8,28.3],[19.9,28.4],[20.39,29.4],[20.49,29.7],[20.59,30.1],[20.69,30.6],[20.79,31],[20.89,31.4],
[21.36,29.4],[21.46,29.1],[21.56,28.8],[21.66,28.5],[21.76,28.1],[21.87,27.8],[22.3,28],[22.38,29],[22.46,29.8],[22.56,30.6],[22.66,31.1],[22.76,31.4],
[23.23,30.8],[23.31,30.3],[23.39,29.6],[23.47,29],[23.57,28.2],[23.69,27.4],[24.07,28.2],[24.17,29],[24.53,33]
];
const altPoints = [
[-.57,7500],[-.57,8150],[-.57,8800],[-.57,9450],[-.57,10100],[-.57,10790],[-.57,11340],[-.53,11617],[-.52,11560],
[-.5,11718],[-.45,11700],[-.41,11694],[-.35,11710],[-.3,11718],[-.24,11720],[-.18,11724],[-.48,11670],
[.27,11724],[.33,11728],[.38,11730],[.44,11736],[.5,11740],[.56,11748],[.62,11754],[.7,11770],[.8,11796],[.3,11700],[.4,11705],[.52,11720],[.66,11790],
[1.37,11766],[1.43,11780],[1.49,11795],[1.55,11808],[1.61,11780],[1.67,11750],[1.73,11736],[1.8,11725],[1.87,11718],[1.4,11735],[1.5,11760],[1.6,11745],[1.7,11700],[1.85,11690],
[2.37,11718],[2.43,11755],[2.49,11796],[2.55,11825],[2.62,11856],[2.67,11780],[2.72,11676],[2.6,11720],[2.5,11710],[2.4,11690],[2.55,11750],[2.68,11730],
[3.26,11736],[3.33,11765],[3.4,11800],[3.47,11826],[3.56,11886],[3.36,11730],[3.5,11790],[4.18,11946],[4.27,12006],[4.22,11920],[5.16,12258],[5.05,12240],[6.46,12018],
[7.08,11946],[7.16,11950],[7.23,11940],[7.3,11916],[7.35,11870],[7.38,11814],[7.2,11900],[7.32,11860],
[7.92,11600],[7.98,11560],[8.04,11530],[8.1,11515],[8.18,11520],[8.27,11527],[7.96,11630],[8.06,11570],[8.16,11555],
[8.8,11706],[8.87,11725],[8.93,11735],[8.98,11736],[9.05,11725],[9.12,11715],[9.2,11706],[8.84,11670],[8.95,11690],[9.08,11680],[9.18,11690],
[9.7,11964],[9.78,11972],[9.87,11975],[9.96,11976],[10.05,11950],[10.14,11916],[9.8,11940],[9.92,11945],
[10.68,11976],[10.76,11965],[10.85,11946],[10.92,11880],[10.98,11830],[11.03,11796],[11.12,11754],[10.72,11930],[10.82,11905],[11,11780],[11.08,11720],
[11.6,11784],[11.67,11820],[11.74,11856],[11.82,11900],[11.9,11935],[11.97,11964],[11.62,11740],[11.7,11790],[11.8,11850],[11.93,11890],
[12.51,12156],[12.55,12230],[12.59,12275],[12.63,12305],[12.7,12345],[12.78,12385],[12.85,12407],[12.6,12200],[12.68,12280],[12.76,12330],[12.85,12340],
[13.43,12305],[13.52,12290],[13.61,12275],[13.7,12220],[13.79,12174],[13.88,12195],[13.97,12216],[13.5,12240],[13.65,12190],[13.8,12140],
[14.5,12204],[14.6,12215],[14.68,12222],[14.77,12228],[14.86,12245],[14.95,12258],[14.55,12170],[14.7,12180],[14.85,12195],
[15.48,12317],[15.57,12315],[15.66,12310],[15.75,12305],[15.84,12270],[15.93,12234],[15.52,12280],[15.7,12270],[15.85,12230],
[16.46,12198],[16.55,12192],[16.64,12188],[16.73,12186],[16.82,12200],[16.91,12218],[17,12234],[16.55,12150],[16.7,12145],[16.85,12160],
[17.44,12216],[17.53,12240],[17.62,12265],[17.7,12288],[17.79,12320],[17.88,12353],[17.5,12190],[17.66,12230],[17.82,12280],
[18.42,12365],[18.52,12380],[18.62,12392],[18.77,12413],[18.5,12340],[18.7,12355],[19.48,12395],[19.58,12410],[19.7,12425],[19.84,12437],[19.55,12375],[19.75,12385],
[20.46,12503],[20.56,12497],[20.68,12485],[20.82,12467],[20.5,12460],[20.7,12440],
[21.35,12473],[21.42,12440],[21.5,12405],[21.56,12385],[21.62,12365],[21.72,12340],[21.8,12317],[21.5,12360],[21.65,12330],
[22.33,12066],[22.39,12040],[22.45,12020],[22.51,12006],[22.58,11985],[22.65,11978],[22.72,11976],[22.68,12050],[22.42,12000],[22.6,11940],[22.66,11930],
[23.04,12234],[23.14,12240],[23.24,12248],[23.34,12255],[23.4,12258],[23.5,12240],[23.6,12225],[23.67,12216],[23.2,12210],[23.4,12215],
[24.23,12485],[24.23,12377],[24.12,12234],[24.23,12234],[24.23,12096],[24.23,11718],[24.23,11680],[24.23,11647],[24.56,12126]
];
const altDaily = [[-1,11365],[0,11780],[1,11785],[2,11796],[3,11800],[4,12066],[5,12245],[6,12054],[7,11838],[8,11660],[9,11868],[10,11958],[11,11886],[12,12305],[13,12258],[14,12246],[15,12293],[16,12228],[17,12288],[18,12395],[19,12437],[20,12473],[21,12395],[22,12066],[23,12246],[24,12186]];
const binEdges = [-100,-95,-90,-85,-80,-75,-70,-65,-60,-55,-50,-45,-40,-35,-30,-25,-20,-15,-10,-5,0,5,10,15,20,25,30,35,40,45,50,55,60,65,70,75,80,85,90,95,100];
const uCounts = [0,0,0,0,0,0,0,0,0,0,0,0,0,0,8,27,12,94,59,134,189,130,164,65,41,92,85,95,98,38,22,12,3,0,0,0,0,0,0,0];
const vCounts = [0,0,0,0,0,0,0,0,0,0,0,0,8,21,37,12,98,56,247,189,367,110,96,89,31,3,0,0,0,0,0,0,0,0,0,0,0,0,0,0];
const dateTicks = ["2026-03-21","2026-03-25","2026-03-29","2026-04-01","2026-04-05","2026-04-09","2026-04-13"];
const infoLines = [
 "Pico Balloon Archive",
 "Callsign: DF5WA-493e   (WSPR)",
 "2026-03-20 10:21:02  to  2026-04-15 11:42:02  UTC",
 "Time aloft: 26.1 days    Data points: 1425",
 "Altitude: 7200 - 12780 m    (float 594 h)",
 "Latitude range: 26.17 to 50.13",
 "Path length: 53,087 km",
 "Position source: reported GPS    σ(E,N) = 715, 438 m",
 "Median sampling gap: 9 min    Longest gap: 21.2 h",
 "Data quality score: 0.971",
 "precision=0.95   cadence=1.00   agreement=1.00   stability=0.97   coverage=0.95"
];

// ---------- Drawing ----------
const svg = d3.select("#fig");
const T0 = Date.UTC(2026,2,21), DAY = 864e5;
const toDate = d => new Date(T0 + d*DAY);
const tickDates = dateTicks.map(s => new Date(s+"T00:00:00Z"));
const fmtDate = d3.utcFormat("%y-%m-%d");
const red = "#c0392b", navy = "#2c3e50", grey = "#7f8c8d";

const L1 = 83.5, L2 = 861.5, W = 705.5, H = 307;
const T = [31.5, 420.5, 808.5];
let clipId = 0;

function panel(left, top, x, y, opts) {
  const g = svg.append("g").attr("transform", `translate(${left},${top})`);
  const id = "clip" + (clipId++);
  g.append("clipPath").attr("id", id).append("rect").attr("width", W).attr("height", H);
  const gridG = g.append("g").attr("class","grid");
  const body = g.append("g").attr("clip-path", `url(#${id})`);
  return {g, body, gridG, id, opts, x, y};
}
function gridlines(p, dash) {
  const {x, y, opts} = p;
  const gs = p.gridG.attr("stroke", opts.gridColor||"#b0b0b0").attr("stroke-opacity", opts.gridAlpha||0.35).attr("stroke-width", 1.1);
  if (dash) gs.attr("stroke-dasharray", dash);
  gs.append("g").selectAll("line").data(opts.xTicks).join("line").attr("x1", d=>x(d)).attr("x2", d=>x(d)).attr("y1",0).attr("y2",H);
  gs.append("g").selectAll("line").data(opts.yTicks).join("line").attr("y1", d=>y(d)).attr("y2", d=>y(d)).attr("x1",0).attr("x2",W);
}
function axes(p, xfmt, rotate) {
  const {g, x, y, opts} = p;
  const ax = d3.axisBottom(x).tickValues(opts.xTicks).tickSize(4.9).tickPadding(4.9).tickFormat(xfmt);
  const ay = d3.axisLeft(y).tickValues(opts.yTicks).tickSize(4.9).tickPadding(4.9).tickFormat(d3.format("d"));
  const gx = g.append("g").attr("transform", `translate(0,${H})`).call(ax);
  const gy = g.append("g").call(ay);
  [gx, gy].forEach(s => { s.select(".domain").remove(); s.selectAll("line").attr("stroke","#000").attr("stroke-width",1.1); s.selectAll("text").attr("font-size",13.9).attr("font-family","DejaVu Sans").attr("fill","#000"); });
  if (rotate) {
    gx.selectAll("text").attr("text-anchor","middle").attr("y",0).attr("dy",0).attr("transform","translate(-1.5,29) rotate(-20)").attr("dominant-baseline","central");
  }
  g.append("rect").attr("width",W).attr("height",H).attr("fill","none").attr("stroke","#000").attr("stroke-width",1.1);
}
function title(p, s) { p.g.append("text").attr("x",W/2).attr("y",-8.3).attr("text-anchor","middle").attr("font-size",16.7).text(s); }
function label(x, y, parts, rot) {
  const t = svg.append("text").attr("text-anchor","middle").attr("font-size",13.9).attr("dominant-baseline","central")
    .attr("transform", `translate(${x},${y})` + (rot? " rotate(-90)":""));
  t.append("tspan").text(parts[0]);
  if (parts[1]) {
    t.append("tspan").attr("font-size",9.7).attr("dy",-5).text(parts[1]);
    t.append("tspan").attr("dy",5).text(parts[2]);
  }
}
function legendBox(g, x, y, w, h) {
  g.append("rect").attr("x",x).attr("y",y).attr("width",w).attr("height",h).attr("rx",2.5).attr("fill","#fff").attr("fill-opacity",0.8).attr("stroke","#ccc").attr("stroke-width",1.1);
}
function legText(g, x, y, s) { g.append("text").attr("x",x).attr("y",y).attr("font-size",11.1).attr("dominant-baseline","central").attr("fill","#000").text(s); }
const dotSeries = (p, data, r, color, xf=d=>toDate(d[0]), yf=d=>d[1]) =>
  p.body.append("g").selectAll("circle").data(data).join("circle").attr("cx",d=>p.x(xf(d))).attr("cy",d=>p.y(yf(d))).attr("r",r).attr("fill",color);

// --- Map
{
  const x = d3.scaleLinear().domain([-180,180]).range([0,W]);
  const y = d3.scaleLinear().domain([-90,90]).range([H,0]);
  const p = panel(L1, T[0], x, y, {xTicks:d3.range(-180,181,60), yTicks:d3.range(-90,91,30), gridColor:"#888", gridAlpha:0.2});
  const geo = d3.line().x(d=>x(d[0])).y(d=>y(d[1]));
  const base = p.g.insert("g", ".grid").attr("clip-path", `url(#${p.id})`);
  base.append("rect").attr("width",W).attr("height",H).attr("fill","#d4e6f1");
  base.append("g").selectAll("path").data(landPolys).join("path").attr("d",d=>geo(d)+"Z").attr("fill","#e8e8e4").attr("stroke","#b4babc").attr("stroke-width",0.7).attr("stroke-linejoin","round");
  base.append("g").selectAll("path").data(borderLines).join("path").attr("d",geo).attr("fill","none").attr("stroke","#d6d6d2").attr("stroke-width",0.7);
  base.append("g").selectAll("path").data(waterPolys).join("path").attr("d",d=>geo(d)+"Z").attr("fill","#d4e6f1").attr("stroke","#b4babc").attr("stroke-width",0.7);
  gridlines(p, "3,2");
  p.body.append("g").selectAll("circle").data(trackPoints).join("circle").attr("cx",d=>x(d[0])).attr("cy",d=>y(d[1])).attr("r",2.7).attr("fill",red);
  p.g.append("circle").attr("cx",x(launchPoint[0])).attr("cy",y(launchPoint[1])).attr("r",8.4).attr("fill","#27ae60").attr("stroke","#000").attr("stroke-width",1.4);
  const star = d3.symbol().type(d3.symbolStar).size(140)();
  p.g.append("path").attr("d",star).attr("transform",`translate(${x(lastFixPoint[0])},${y(lastFixPoint[1])})`).attr("fill","#1f77b4").attr("stroke","#000").attr("stroke-width",1.4);
  axes(p, d3.format("d"));
  title(p,"Flight Track");
  const lg = svg.append("g");
  legendBox(lg,90,283.7,79.3,49);
  lg.append("circle").attr("cx",104.3).attr("cy",292.7).attr("r",2).attr("fill",red);
  lg.append("circle").attr("cx",104.3).attr("cy",308.3).attr("r",8.4).attr("fill","#27ae60").attr("stroke","#000").attr("stroke-width",1.4);
  lg.append("path").attr("d",star).attr("transform","translate(104.3,323)").attr("fill","#1f77b4").attr("stroke","#000").attr("stroke-width",1.4);
  legText(lg,124,292.5,"Track"); legText(lg,125,308,"Launch"); legText(lg,124,323,"Last fix");
  label(L1+W/2-1,375,["Longitude (deg)"]);
  label(30.5,T[0]+H/2+1,["Latitude (deg)"],true);
}
// --- Info text
const infoSize = [22.2,19.4,15.3,15.3,15.3,15.3,15.3,15.3,15.3,18,12.5];
const infoColor = ["#1a5276","#000","#000","#000","#000","#000","#000","#000","#000","#1a5276","#555"];
const infoY = [58.5,80,100,123,146,169,192,215,238,263,282];
const infoX = [1214,1214,1214,1214,1214,1214,1214,1214,1214,1214,1218.5];
svg.append("g").selectAll("text").data(infoLines).join("text").attr("x",(d,i)=>infoX[i]).attr("y",(d,i)=>infoY[i]).attr("text-anchor","middle")
  .attr("font-size",(d,i)=>infoSize[i]).attr("fill",(d,i)=>infoColor[i]).attr("xml:space","preserve").style("white-space","pre").text(d=>d);

const xTime = d3.scaleUtc().domain([toDate(-2.264),toDate(25.815)]).range([0,W]);
// --- Wind
{
  const y = d3.scaleLinear().domain([0,67.95]).range([H,0]);
  const p = panel(L1,T[1],xTime,y,{xTicks:tickDates,yTicks:d3.range(0,61,10)});
  gridlines(p);
  const band = d3.area().x(d=>xTime(toDate(d[0]))).y0(d=>y(d[1])).y1(d=>y(d[2]));
  p.body.append("path").attr("d",band(windBand)).attr("fill",grey).attr("fill-opacity",0.4);
  dotSeries(p,windPoints,2.3,navy);
  p.body.append("path").attr("d",d3.line().x(d=>xTime(toDate(d[0]))).y(d=>y(d[1]))(windDaily)).attr("fill","none").attr("stroke",red).attr("stroke-width",1.6);
  axes(p,fmtDate,true);
  title(p,"Wind Speed vs. Time");
  const lg = svg.append("g");
  legendBox(lg,355.7,425.5,161.6,49.5);
  lg.append("rect").attr("x",359).attr("y",430).attr("width",24).attr("height",9).attr("fill",grey).attr("fill-opacity",0.4);
  lg.append("circle").attr("cx",370.5).attr("cy",450.3).attr("r",1.9).attr("fill",navy);
  lg.append("line").attr("x1",358.5).attr("x2",383).attr("y1",465).attr("y2",465).attr("stroke",red).attr("stroke-width",1.6);
  legText(lg,390,435.5,"±1σ propagated error"); legText(lg,390,450.3,"Wind speed"); legText(lg,390,466,"Daily mean");
  label(37.5,T[1]+H/2,["Wind speed (m s","−1",")"],true);
}
// --- Latitude
{
  const x = d3.scaleUtc().domain([toDate(-1.843),toDate(25.82)]).range([0,W]);
  const y = d3.scaleLinear().domain([-90,90]).range([H,0]);
  const p = panel(L2,T[1],x,y,{xTicks:tickDates,yTicks:d3.range(-90,91,30)});
  gridlines(p);
  dotSeries(p,latPoints,2.4,"#000");
  axes(p,fmtDate,true);
  title(p,"Latitude vs. Time");
  label(809.5,T[1]+H/2,["Latitude (deg)"],true);
}
// --- Altitude
{
  const y = d3.scaleLinear().domain([7265,12745]).range([H,0]);
  const p = panel(L1,T[2],xTime,y,{xTicks:tickDates,yTicks:d3.range(8000,12001,1000)});
  gridlines(p);
  dotSeries(p,altPoints,2.4,grey);
  p.body.append("path").attr("d",d3.line().x(d=>xTime(toDate(d[0]))).y(d=>y(d[1]))(altDaily)).attr("fill","none").attr("stroke",red).attr("stroke-width",1.6);
  axes(p,fmtDate,true);
  title(p,"Balloon Altitude vs. Time");
  label(L1+W/2,1173,["UTC date"]);
  label(16.5,T[2]+H/2,["Altitude (m AMSL)"],true);
}
// --- Histogram
{
  const x = d3.scaleLinear().domain([-100,100]).range([0,W]);
  const y = d3.scaleLinear().domain([0,385.35]).range([H,0]);
  const p = panel(L2,T[2],x,y,{xTicks:d3.range(-100,101,25),yTicks:d3.range(0,351,50)});
  gridlines(p);
  const bars = (vals,color) => p.body.append("g").selectAll("rect").data(vals).join("rect")
    .attr("x",(d,i)=>x(binEdges[i])).attr("width",(d,i)=>x(binEdges[i+1])-x(binEdges[i])).attr("y",d=>y(d)).attr("height",d=>y(0)-y(d))
    .attr("fill",color).attr("fill-opacity",0.65).attr("stroke","#000").attr("stroke-opacity",0.65).attr("stroke-width",1.1);
  bars(uCounts,"#1f77b4"); bars(vCounts,"#ff7f0e");
  axes(p,d3.format("d"));
  title(p,"U and V Wind Components");
  const lg = svg.append("g");
  legendBox(lg,1443,814.3,115,34.4);
  lg.append("rect").attr("x",1446.4).attr("y",819.3).attr("width",22).attr("height",7.6).attr("fill","#1f77b4").attr("fill-opacity",0.65).attr("stroke","#000").attr("stroke-opacity",0.65).attr("stroke-width",1.1);
  lg.append("rect").attr("x",1446.4).attr("y",834.7).attr("width",22).attr("height",7.6).attr("fill","#ff7f0e").attr("fill-opacity",0.65).attr("stroke","#000").attr("stroke-opacity",0.65).attr("stroke-width",1.1);
  legText(lg,1477.5,824.3,"U (zonal)"); legText(lg,1477.5,839,"V (meridional)");
  label(L2+W/2,1155.5,["Wind speed (m s","−1",")"]);
  label(813.5,T[2]+H/2,["Frequency"],true);
}
</script></body></html>
